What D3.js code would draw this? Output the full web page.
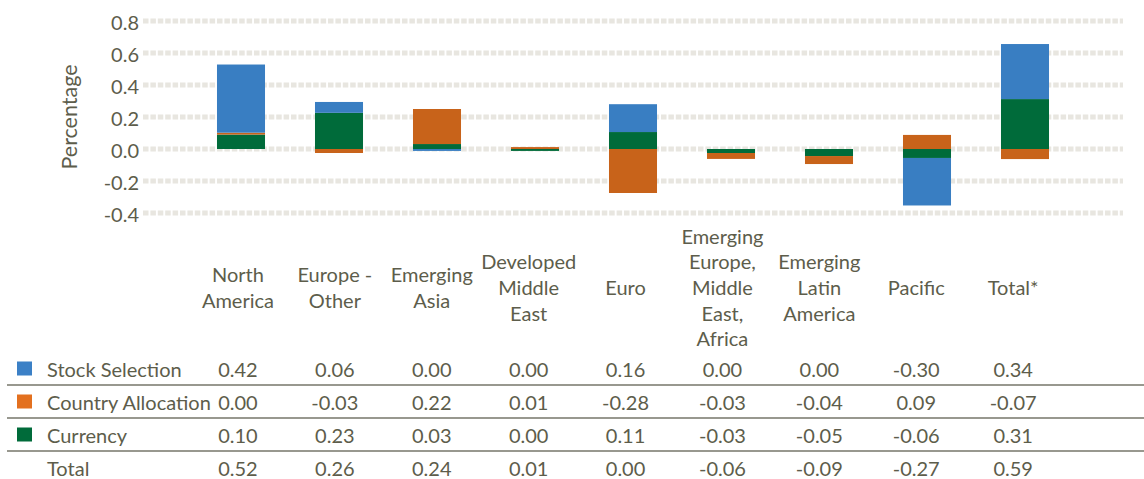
<!DOCTYPE html>
<html>
<head>
<meta charset="utf-8">
<script src="https://cdn.jsdelivr.net/npm/d3@7"></script>
<style>
  html, body { margin: 0; padding: 0; background: #fff; }
  svg text { font-family: Lato, "Noto Sans", sans-serif; fill: #5d5d4b; }
</style>
</head>
<body>
<div id="chart"></div>
<script>
// -------- DATA --------
const categories = ["North America", "Europe - Other", "Emerging Asia", "Developed Middle East", "Euro",
  "Emerging Europe, Middle East, Africa", "Emerging Latin America", "Pacific", "Total*"];
// line breaks as they appear under the bars
const categoryLines = [["North", "America"], ["Europe -", "Other"], ["Emerging", "Asia"], ["Developed", "Middle", "East"],
  ["Euro"], ["Emerging", "Europe,", "Middle", "East,", "Africa"], ["Emerging", "Latin", "America"], ["Pacific"], ["Total*"]];

// bar heights
const stockSelection    = [0.426, 0.068, -0.012, 0.000, 0.174, 0.000, 0.000, -0.297, 0.344];
const countryAllocation = [0.012, -0.025, 0.219, 0.012, -0.275, -0.037, -0.050, 0.088, -0.063];
const currency          = [0.090, 0.226, 0.031, -0.012, 0.106, -0.025, -0.044, -0.056, 0.312];

// numbers printed in the data table
const stockTable    = [0.42, 0.06, 0.00, 0.00, 0.16, 0.00, 0.00, -0.30, 0.34];
const countryTable  = [0.00, -0.03, 0.22, 0.01, -0.28, -0.03, -0.04, 0.09, -0.07];
const currencyTable = [0.10, 0.23, 0.03, 0.00, 0.11, -0.03, -0.05, -0.06, 0.31];
const totalTable    = [0.52, 0.26, 0.24, 0.01, 0.00, -0.06, -0.09, -0.27, 0.59];

const yTicks = [-0.4, -0.2, 0.0, 0.2, 0.4, 0.6, 0.8];

// -------- LAYOUT --------
const width = 1144, height = 479;
const colors = { "Stock Selection": "#397ec2", "Country Allocation": "#c8631a", "Currency": "#006b3a" };
const legendColors = { "Stock Selection": "#3b80c6", "Country Allocation": "#e3701f", "Currency": "#006b3a" };

const fmt = d3.formatLocale({ decimal: ".", thousands: ",", grouping: [3], currency: ["$", ""], minus: "-" });
const f1 = fmt.format(".1f"), f2 = fmt.format(".2f");

const svg = d3.select("#chart").append("svg")
  .attr("width", width).attr("height", height);

// bars
const x = d3.scaleBand()
  .domain(categories)
  .range([192, 1074])
  .paddingInner(0.51)
  .paddingOuter(0.255);

// table columns (slightly narrower step than the bars)
const xTable = d3.scaleBand()
  .domain(categories)
  .range([189.5, 1061.6]);
const colX = c => xTable(c) + xTable.bandwidth() / 2;

const y = d3.scaleLinear()
  .domain([-0.4, 0.8])
  .range([213, 21]);

// -------- GRID --------
svg.append("g").selectAll("line")
  .data(yTicks)
  .join("line")
    .attr("x1", 143).attr("x2", 1123)
    .attr("y1", d => y(d)).attr("y2", d => y(d))
    .attr("stroke", "#e8e6e0")
    .attr("stroke-width", 5)
    .attr("stroke-dasharray", "5.5,1.9");

svg.append("g").selectAll("text")
  .data(yTicks)
  .join("text")
    .attr("x", 139)
    .attr("y", d => y(d) + 1)
    .attr("text-anchor", "end")
    .attr("dominant-baseline", "central")
    .style("font-size", "20px")
    .text(d => f1(d));

svg.append("text")
  .attr("transform", "translate(77, 117) rotate(-90)")
  .attr("text-anchor", "middle")
  .style("font-size", "21.5px")
  .text("Percentage");

// -------- BARS --------
const rows = categories.map((c, i) => ({
  category: c,
  "Stock Selection": stockSelection[i],
  "Country Allocation": countryAllocation[i],
  "Currency": currency[i]
}));

// Excel stacks the last series first (Currency at the base)
const stack = d3.stack()
  .keys(["Currency", "Country Allocation", "Stock Selection"])
  .offset(d3.stackOffsetDiverging);

svg.append("g").selectAll("g")
  .data(stack(rows))
  .join("g")
    .attr("fill", s => colors[s.key])
  .selectAll("rect")
  .data(s => s)
  .join("rect")
    .attr("x", d => x(d.data.category))
    .attr("width", x.bandwidth())
    .attr("y", d => y(Math.max(d[0], d[1])))
    .attr("height", d => Math.abs(y(d[0]) - y(d[1])));

// -------- CATEGORY LABELS --------
const lineH = 25.6;
const labels = svg.append("g").selectAll("text")
  .data(categories)
  .join("text")
    .attr("text-anchor", "middle")
    .style("font-size", "20px");

labels.each(function(c, i) {
  const lines = categoryLines[i];
  const y0 = 287 - (lines.length - 1) * lineH / 2;
  d3.select(this).selectAll("tspan")
    .data(lines)
    .join("tspan")
      .attr("x", colX(c))
      .attr("y", (d, j) => y0 + j * lineH)
      .attr("dominant-baseline", "central")
      .text(d => d);
});

// -------- DATA TABLE --------
const tableRows = [
  { name: "Stock Selection", values: stockTable },
  { name: "Country Allocation", values: countryTable },
  { name: "Currency", values: currencyTable },
  { name: "Total", values: totalTable }
];
const rowTop = 352, rowH = 33;

const table = svg.append("g");

table.selectAll("line")
  .data([1, 2, 3])
  .join("line")
    .attr("x1", 7).attr("x2", width)
    .attr("y1", d => rowTop + d * rowH)
    .attr("y2", d => rowTop + d * rowH)
    .attr("stroke", "#76766a")
    .attr("stroke-width", 1.4);

const tr = table.selectAll("g.row")
  .data(tableRows)
  .join("g")
    .attr("class", "row")
    .attr("transform", (d, i) => `translate(0, ${rowTop + rowH * i + rowH / 2})`);

tr.filter(d => legendColors[d.name])
  .append("rect")
    .attr("x", 17).attr("y", -7)
    .attr("width", 15).attr("height", 14)
    .attr("fill", d => legendColors[d.name]);

tr.append("text")
  .attr("x", 47)
  .attr("dominant-baseline", "central")
  .style("font-size", "20px")
  .text(d => d.name);

tr.selectAll("text.val")
  .data(d => d.values)
  .join("text")
    .attr("class", "val")
    .attr("x", (v, i) => colX(categories[i]))
    .attr("text-anchor", "middle")
    .attr("dominant-baseline", "central")
    .style("font-size", "20px")
    .text(v => f2(v));
</script>
</body>
</html>
